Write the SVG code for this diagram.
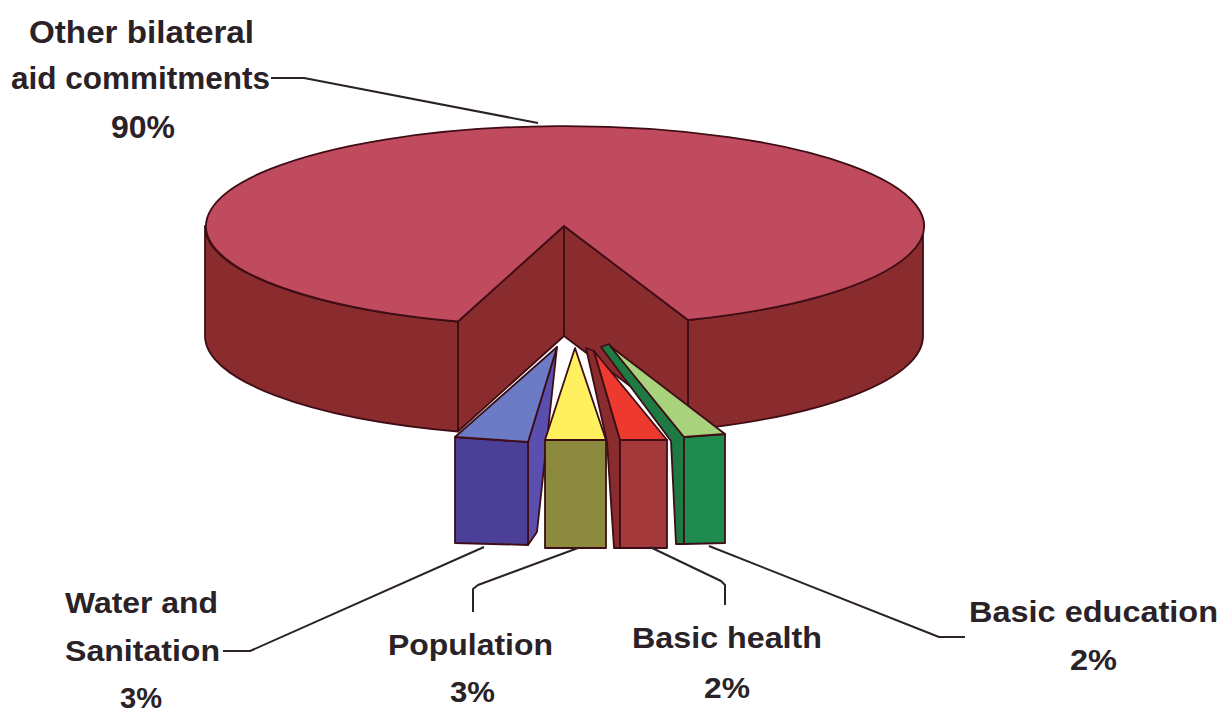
<svg xmlns="http://www.w3.org/2000/svg" width="1230" height="713" viewBox="0 0 1230 713">
<style>
.lbl{font-family:"Liberation Sans",Arial,sans-serif;font-weight:bold;font-size:30px;fill:#2a2226}
.big{font-size:31px}
.ol{stroke:#3e0d15;stroke-width:1.8;stroke-linejoin:round}
.pie-top{fill:#c04b5e}
.pie-side{fill:#8a2b2d}
.conn{fill:none;stroke:#2a2226;stroke-width:2;stroke-linejoin:round}
</style>
<rect width="1230" height="713" fill="#ffffff"/>
<g id="pie-other">
  <path class="pie-side ol" d="M205,226 A359 100 0 0 0 458,321.5 L458,431.5 A359 100 0 0 1 205,336 Z"/>
  <path class="pie-side ol" d="M688,320 A359 100 0 0 0 923,226 L923,336 A359 100 0 0 1 688,430 Z"/>
  <path class="pie-side ol" d="M458,321.5 L564,226 L564,336 L458,431.5 Z"/>
  <path class="pie-side ol" d="M564,226 L688,320 L688,430 L564,336 Z"/>
  <path class="pie-top ol" d="M564,226 L688,320 A359 100 0 1 0 458,321.5 Z"/>
</g>
<g id="slice-water">
  <path class="ol" fill="#5a4fae" d="M557,347 L537,532 L528,545 L528,442 Z"/>
  <path class="ol" fill="#4b3f98" d="M455,437 L528,442 L528,545 L455,543 Z"/>
  <path class="ol" fill="#6b7bc6" d="M557,347 L455,437 L528,442 Z"/>
</g>
<g id="slice-population">
  <path class="ol" fill="#8c8a3e" d="M545,440 L606,440 L606,548 L545,548 Z"/>
  <path class="ol" fill="#fff060" d="M575,348 L545,440 L606,440 Z"/>
</g>
<g id="slice-health">
  <path class="ol" fill="#8a2b2d" d="M586,348 L594,351 L620,440 L620,548 L614,548 L607,442 Z"/>
  <path class="ol" fill="#a3393b" d="M620,440 L667,440 L667,548 L620,548 Z"/>
  <path class="ol" fill="#ee3a2e" d="M594,351 L620,440 L667,440 Z"/>
</g>
<g id="slice-education">
  <path class="ol" fill="#1d7a42" d="M601,347 L609,344 L684,437 L684,544 L676,544 L671,441 Z"/>
  <path class="ol" fill="#1f8b4e" d="M684,437 L725,434 L725,543 L684,544 Z"/>
  <path class="ol" fill="#a8d27c" d="M610,346 L684,437 L725,434 Z"/>
</g>
<g id="connectors">
  <polyline class="conn" points="271,78 304,78 538,123"/>
  <polyline class="conn" points="223,651 250,651 484,547"/>
  <polyline class="conn" points="473,612 473,589 478,585 578,548"/>
  <polyline class="conn" points="725,605 725,585 721,581 650,547"/>
  <polyline class="conn" points="965,637 939,637 709,546"/>
</g>
<g id="label-other">
  <text class="lbl big" x="29" y="43" textLength="225" lengthAdjust="spacingAndGlyphs">Other bilateral</text>
  <text class="lbl big" x="11" y="89" textLength="259" lengthAdjust="spacingAndGlyphs">aid commitments</text>
  <text class="lbl big" x="111" y="138" textLength="64" lengthAdjust="spacingAndGlyphs">90%</text>
</g>
<g id="label-water">
  <text class="lbl" x="65" y="613" textLength="153" lengthAdjust="spacingAndGlyphs">Water and</text>
  <text class="lbl" x="65" y="661" textLength="155" lengthAdjust="spacingAndGlyphs">Sanitation</text>
  <text class="lbl" x="120" y="708" textLength="42" lengthAdjust="spacingAndGlyphs">3%</text>
</g>
<g id="label-population">
  <text class="lbl" x="388" y="655" textLength="165" lengthAdjust="spacingAndGlyphs">Population</text>
  <text class="lbl" x="450" y="702" textLength="45" lengthAdjust="spacingAndGlyphs">3%</text>
</g>
<g id="label-health">
  <text class="lbl" x="632" y="648" textLength="190" lengthAdjust="spacingAndGlyphs">Basic health</text>
  <text class="lbl" x="704" y="698" textLength="46" lengthAdjust="spacingAndGlyphs">2%</text>
</g>
<g id="label-education">
  <text class="lbl" x="969" y="622" textLength="249" lengthAdjust="spacingAndGlyphs">Basic education</text>
  <text class="lbl" x="1070" y="670" textLength="47" lengthAdjust="spacingAndGlyphs">2%</text>
</g>
</svg>
